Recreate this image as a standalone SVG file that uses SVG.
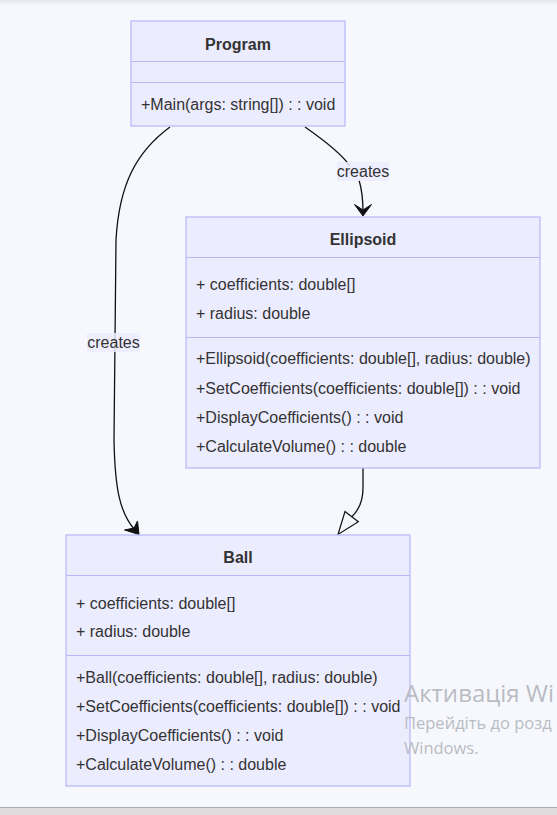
<svg xmlns="http://www.w3.org/2000/svg" width="557" height="815" viewBox="0 0 557 815">
<defs>
<style>
.box{fill:#ECECFF;stroke:#b7b7f7;stroke-width:1.2}
.div{stroke:#b7b7f7;stroke-width:1.2}
.t{font-family:"Liberation Sans",Arial,sans-serif;font-size:16px;fill:#333}
.b{font-weight:bold;text-anchor:middle}
.edge{fill:none;stroke:#111;stroke-width:1.3}
.lbl{fill:#ECECFF;opacity:0.85}
.wm{font-family:"Open Sans","Noto Sans",sans-serif;fill:#b9bcc2}
</style>
<linearGradient id="top" x1="0" y1="0" x2="0" y2="1">
<stop offset="0" stop-color="#e4e6ea"/>
<stop offset="1" stop-color="#f6f8fe"/>
</linearGradient>
</defs>
<rect x="0" y="0" width="557" height="815" fill="#f6f8fe"/>
<rect x="0" y="0" width="557" height="5" fill="url(#top)"/>
<rect x="0" y="807" width="557" height="8" fill="#dedcdc"/>
<line x1="0" y1="807.5" x2="557" y2="807.5" stroke="#a9adb3" stroke-width="1"/>

<g id="connectors">
<path class="edge" d="M305,127 C328,143 343,156 350,166"/>
<path class="edge" d="M359,180 C362,190 363,198 363,212"/>
<path d="M354.5,204.5 L363,216 L371.5,204.5 L363,210 Z" fill="#111" stroke="#111" stroke-width="1"/>
<rect class="lbl" x="337" y="162" width="52" height="19"/>
<text class="t" x="363" y="177" text-anchor="middle">creates</text>

<path class="edge" d="M170,127 C136,152 119,185 116,240 L114,440 C115,490 120,512 134,529"/>
<path d="M124.5,530 L139,534.5 L137.5,521 L134,528 Z" fill="#111" stroke="#111" stroke-width="1"/>
<rect class="lbl" x="87" y="333" width="53" height="19"/>
<text class="t" x="113.5" y="348" text-anchor="middle">creates</text>

<path class="edge" d="M363,468 L363,488 C363,502 358,511 351.5,517"/>
<path d="M345,511.5 L358.3,521.7 L338,534.5 Z" fill="#f6f8fe" stroke="#111" stroke-width="1.2"/>
</g>

<g id="Program">
<rect class="box" x="131" y="21" width="214" height="105"/>
<line class="div" x1="131" y1="61.5" x2="345" y2="61.5"/>
<line class="div" x1="131" y1="82.5" x2="345" y2="82.5"/>
<text class="t b" x="238" y="49.5">Program</text>
<text class="t" x="141" y="109.5">+Main(args: string[]) : : void</text>
</g>

<g id="Ellipsoid">
<rect class="box" x="186" y="217" width="354" height="251"/>
<line class="div" x1="186" y1="257.5" x2="540" y2="257.5"/>
<line class="div" x1="186" y1="337.5" x2="540" y2="337.5"/>
<text class="t b" x="363" y="244.5">Ellipsoid</text>
<text class="t" x="196" y="289.5">+ coefficients: double[]</text>
<text class="t" x="196" y="318.5">+ radius: double</text>
<text class="t" x="196" y="364">+Ellipsoid(coefficients: double[], radius: double)</text>
<text class="t" x="196" y="394">+SetCoefficients(coefficients: double[]) : : void</text>
<text class="t" x="196" y="423">+DisplayCoefficients() : : void</text>
<text class="t" x="196" y="452">+CalculateVolume() : : double</text>
</g>

<g id="Ball">
<rect class="box" x="66" y="535" width="344" height="251"/>
<line class="div" x1="66" y1="575.5" x2="410" y2="575.5"/>
<line class="div" x1="66" y1="655.5" x2="410" y2="655.5"/>
<text class="t b" x="238" y="562.5">Ball</text>
<text class="t" x="76" y="608.5">+ coefficients: double[]</text>
<text class="t" x="76" y="637">+ radius: double</text>
<text class="t" x="76" y="683">+Ball(coefficients: double[], radius: double)</text>
<text class="t" x="76" y="712">+SetCoefficients(coefficients: double[]) : : void</text>
<text class="t" x="76" y="741">+DisplayCoefficients() : : void</text>
<text class="t" x="76" y="770">+CalculateVolume() : : double</text>
</g>

<g id="watermark">
<text class="wm" x="404" y="702" font-size="24">Активація Wi</text>
<text class="wm" x="404" y="729" font-size="16.5">Перейдіть до розд</text>
<text class="wm" x="404" y="754" font-size="16.5">Windows.</text>
</g>
</svg>
